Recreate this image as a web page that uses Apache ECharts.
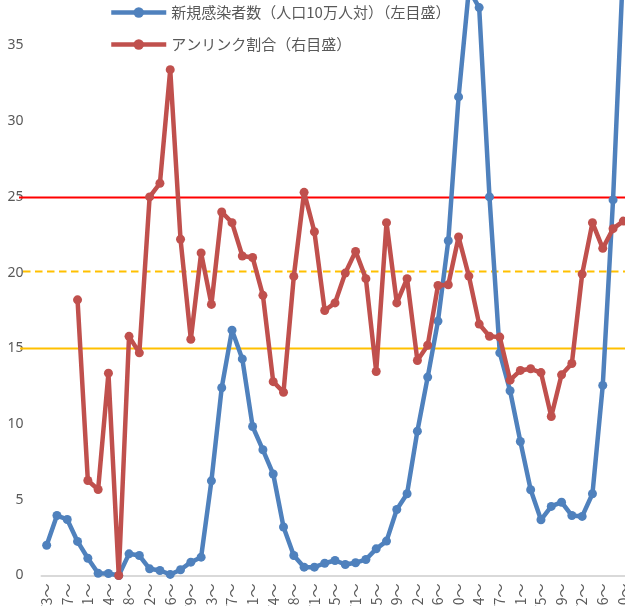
<!DOCTYPE html>
<html>
<head>
<meta charset="utf-8">
<script src="https://cdn.jsdelivr.net/npm/echarts@6/dist/echarts.min.js"></script>
<style>
  html, body { margin: 0; padding: 0; background: #fff; }
  #chart { width: 625px; height: 606px; }
</style>
</head>
<body>
<div id="chart"></div>
<script>
// weekly periods
var weeks = [
  '8/3〜', '8/10〜', '8/17〜', '8/24〜', '8/31〜', '9/7〜', '9/14〜', '9/21〜', '9/28〜',
  '10/5〜', '10/12〜', '10/19〜', '10/26〜', '11/2〜', '11/9〜', '11/16〜', '11/23〜', '11/30〜',
  '12/7〜', '12/14〜', '12/21〜', '12/28〜', '1/4〜', '1/11〜', '1/18〜', '1/25〜',
  '2/1〜', '2/8〜', '2/15〜', '2/22〜', '3/1〜', '3/8〜', '3/15〜', '3/22〜', '3/29〜',
  '4/5〜', '4/12〜', '4/19〜', '4/26〜', '5/3〜', '5/10〜', '5/17〜', '5/24〜', '5/31〜',
  '6/7〜', '6/14〜', '6/21〜', '6/28〜', '7/5〜', '7/12〜', '7/19〜', '7/26〜',
  '8/2〜', '8/9〜', '8/16〜', '8/23〜', '8/30〜'
];

// 新規感染者数（人口10万人対） - left scale
var newCases = [
  2.0, 3.96, 3.7, 2.25, 1.14, 0.15, 0.13, 0.0, 1.43, 1.32,
  0.44, 0.33, 0.07, 0.38, 0.88, 1.21, 6.25, 12.4, 16.2, 14.3,
  9.84, 8.3, 6.7, 3.2, 1.32, 0.55, 0.55, 0.81, 0.99, 0.73,
  0.84, 1.06, 1.76, 2.27, 4.36, 5.4, 9.53, 13.1, 16.8, 22.1,
  31.6, 38.7, 37.5, 25.0, 14.7, 12.2, 8.85, 5.66, 3.68, 4.56,
  4.84, 3.96, 3.9, 5.4, 12.55, 24.8, 40.5
];

// アンリンク割合 - right scale
var unlinkedRate = [
  null, null, null, 18.2, 6.27, 5.68, 13.36, 0.0, 15.79, 14.7,
  25.0, 25.9, 33.4, 22.2, 15.6, 21.3, 17.9, 24.0, 23.3, 21.1,
  21.0, 18.5, 12.8, 12.1, 19.75, 25.3, 22.7, 17.5, 18.0, 19.97,
  21.4, 19.6, 13.47, 23.3, 18.0, 19.6, 14.2, 15.2, 19.15, 19.2,
  22.35, 19.77, 16.6, 15.8, 15.74, 12.9, 13.54, 13.65, 13.4, 10.5,
  13.25, 14.0, 19.9, 23.3, 21.6, 22.9, 23.4
];

// reference levels
var refLevels = [25, 20.1, 15];

var seriesNames = ['新規感染者数（人口10万人対）（左目盛）', 'アンリンク割合（右目盛）'];

var refStyles = [
  { stroke: '#FF0000', lineWidth: 2, x0: 19 },
  { stroke: '#FFC000', lineWidth: 2, lineDash: [7.5, 4.5], x0: 23 },
  { stroke: '#FFC000', lineWidth: 2, x0: 20 }
];

var chart = echarts.init(document.getElementById('chart'));

chart.setOption({
  animation: false,
  textStyle: { fontFamily: '"Noto Sans", "Noto Sans CJK JP", sans-serif' },
  color: ['#4F81BD', '#C0504D'],
  grid: { left: 41.5, top: 0, width: 587, bottom: 30.5, containLabel: false, outerBoundsMode: 'none' },
  legend: {
    data: seriesNames,
    orient: 'vertical',
    left: 104,
    top: 0,
    itemWidth: 55,
    itemHeight: 13,
    itemGap: 17,
    lineStyle: { width: 4.5 },
    textStyle: { color: '#595959', fontSize: 15, fontFamily: '"Noto Sans CJK JP", sans-serif' }
  },
  xAxis: {
    type: 'category',
    data: weeks,
    boundaryGap: true,
    axisLine: { lineStyle: { color: '#D9D9D9', width: 2 } },
    axisTick: { show: false },
    axisLabel: {
      interval: 1,
      rotate: 90,
      margin: 8,
      color: '#595959',
      fontSize: 14,
      fontFamily: '"Noto Sans CJK JP", sans-serif'
    }
  },
  yAxis: {
    type: 'value',
    min: 0,
    max: 38,
    interval: 5,
    axisLine: { show: false },
    axisTick: { show: false },
    splitLine: { show: false },
    axisLabel: { color: '#595959', fontSize: 14, margin: 18, showMaxLabel: false }
  },
  series: [
    {
      name: seriesNames[0],
      type: 'line',
      data: newCases,
      symbol: 'circle',
      symbolSize: 9,
      showAllSymbol: true,
      lineStyle: { width: 4.5 },
      clip: true,
      z: 3
    },
    {
      name: seriesNames[1],
      type: 'line',
      data: unlinkedRate,
      symbol: 'circle',
      symbolSize: 9,
      showAllSymbol: true,
      lineStyle: { width: 4.5 },
      clip: true,
      z: 4
    }
  ]
});

// reference lines placed from the value axis
var refGraphics = refLevels.map(function (v, i) {
  var y = Math.round(chart.convertToPixel({ yAxisIndex: 0 }, v)) + 0.5;
  var st = refStyles[i];
  return {
    type: 'line',
    z: 1,
    shape: { x1: st.x0, y1: y, x2: 625, y2: y },
    style: { stroke: st.stroke, lineWidth: st.lineWidth, lineDash: st.lineDash || null }
  };
});
chart.setOption({ graphic: refGraphics });
</script>
</body>
</html>
